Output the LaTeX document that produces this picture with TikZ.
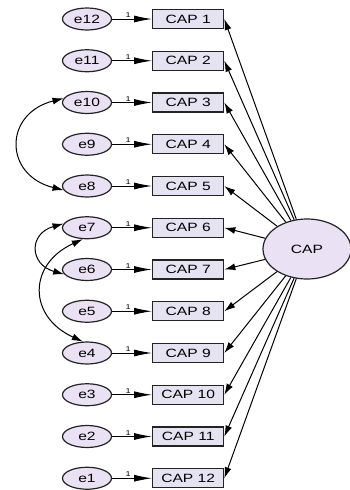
\documentclass[tikz,border=0pt]{standalone}
\usepackage{fontspec}
\newfontfamily\amosfont[FakeStretch=1.3]{Liberation Sans}
\usetikzlibrary{arrows.meta, positioning, shapes.geometric}
\definecolor{errfill}{RGB}{234,226,244}
\definecolor{obsfill}{RGB}{229,227,241}
\definecolor{edge}{RGB}{35,35,35}
\tikzset{
    errvar/.style={
        ellipse,
        draw=edge,
        line width=1.2pt,
        fill=errfill,
        minimum width=49pt,
        minimum height=22pt,
        inner sep=0pt,
        font=\amosfont\fontsize{12}{12}\selectfont
    },
    obsbox/.style={
        draw=edge,
        line width=1.2pt,
        fill=obsfill,
        minimum width=71pt,
        minimum height=19pt,
        inner sep=0pt,
        font=\amosfont\fontsize{12}{12}\selectfont
    },
    latent/.style={
        ellipse,
        draw=edge,
        line width=1.2pt,
        fill=errfill,
        minimum width=88pt,
        minimum height=60pt,
        inner sep=0pt,
        font=\amosfont\fontsize{12}{12}\selectfont
    },
    errline/.style={-{Latex[length=18pt, width=7pt]}, line width=1pt},
    loading/.style={-{Latex[length=11pt, width=7pt]}, line width=1pt},
    cov/.style={{Latex[length=11pt, width=7pt]}-{Latex[length=11pt, width=7pt]}, line width=1pt},
    fixed/.style={above, pos=0.4, inner sep=1pt, font=\amosfont\fontsize{7}{7}\selectfont}
}
\begin{document}
\begin{tikzpicture}[x=1pt, y=1pt, node distance=18.55pt]
\useasboundingbox (0,0) rectangle (349,-490);

% error terms
\node[errvar] (e12) at (87,-19) {e12};
\node[errvar, below=of e12] (e11) {e11};
\node[errvar, below=of e11] (e10) {e10};
\node[errvar, below=of e10] (e9) {e9};
\node[errvar, below=of e9] (e8) {e8};
\node[errvar, below=of e8] (e7) {e7};
\node[errvar, below=of e7] (e6) {e6};
\node[errvar, below=of e6] (e5) {e5};
\node[errvar, below=of e5] (e4) {e4};
\node[errvar, below=of e4] (e3) {e3};
\node[errvar, below=of e3] (e2) {e2};
\node[errvar, below=of e2] (e1) {e1};

% observed items
\node[obsbox, right=40pt of e12] (cap1) {CAP 1};
\node[obsbox, right=40pt of e11] (cap2) {CAP 2};
\node[obsbox, right=40pt of e10] (cap3) {CAP 3};
\node[obsbox, right=40pt of e9] (cap4) {CAP 4};
\node[obsbox, right=40pt of e8] (cap5) {CAP 5};
\node[obsbox, right=40pt of e7] (cap6) {CAP 6};
\node[obsbox, right=40pt of e6] (cap7) {CAP 7};
\node[obsbox, right=40pt of e5] (cap8) {CAP 8};
\node[obsbox, right=40pt of e4] (cap9) {CAP 9};
\node[obsbox, right=40pt of e3] (cap10) {CAP 10};
\node[obsbox, right=40pt of e2] (cap11) {CAP 11};
\node[obsbox, right=40pt of e1] (cap12) {CAP 12};

% factor
\node[latent] (cap) at (307,-249) {CAP};

% error paths, fixed to 1
\draw[errline] (e12) -- node[fixed] {1} (cap1);
\draw[errline] (e11) -- node[fixed] {1} (cap2);
\draw[errline] (e10) -- node[fixed] {1} (cap3);
\draw[errline] (e9) -- node[fixed] {1} (cap4);
\draw[errline] (e8) -- node[fixed] {1} (cap5);
\draw[errline] (e7) -- node[fixed] {1} (cap6);
\draw[errline] (e6) -- node[fixed] {1} (cap7);
\draw[errline] (e5) -- node[fixed] {1} (cap8);
\draw[errline] (e4) -- node[fixed] {1} (cap9);
\draw[errline] (e3) -- node[fixed] {1} (cap10);
\draw[errline] (e2) -- node[fixed] {1} (cap11);
\draw[errline] (e1) -- node[fixed] {1} (cap12);

% loadings
\draw[loading] (cap) -- (cap1.east);
\draw[loading] (cap) -- (cap2.east);
\draw[loading] (cap) -- (cap3.east);
\draw[loading] (cap) -- (cap4.east);
\draw[loading] (cap) -- (cap5.east);
\draw[loading] (cap) -- (cap6.east);
\draw[loading] (cap) -- (cap7.east);
\draw[loading] (cap) -- (cap8.east);
\draw[loading] (cap) -- (cap9.east);
\draw[loading] (cap) -- (cap10.east);
\draw[loading] (cap) -- (cap11.east);
\draw[loading] (cap) -- (cap12.east);

% correlated errors
\draw[cov] (e10.170) .. controls +(-60,-15) and +(-60,15) .. (e8.190);
\draw[cov] (e7.170) .. controls +(-35,-10) and +(-35,10) .. (e6.192);
\draw[cov] (e7.250) .. controls +(-55,-25) and +(-55,25) .. (e4.110);
\end{tikzpicture}
\end{document}
